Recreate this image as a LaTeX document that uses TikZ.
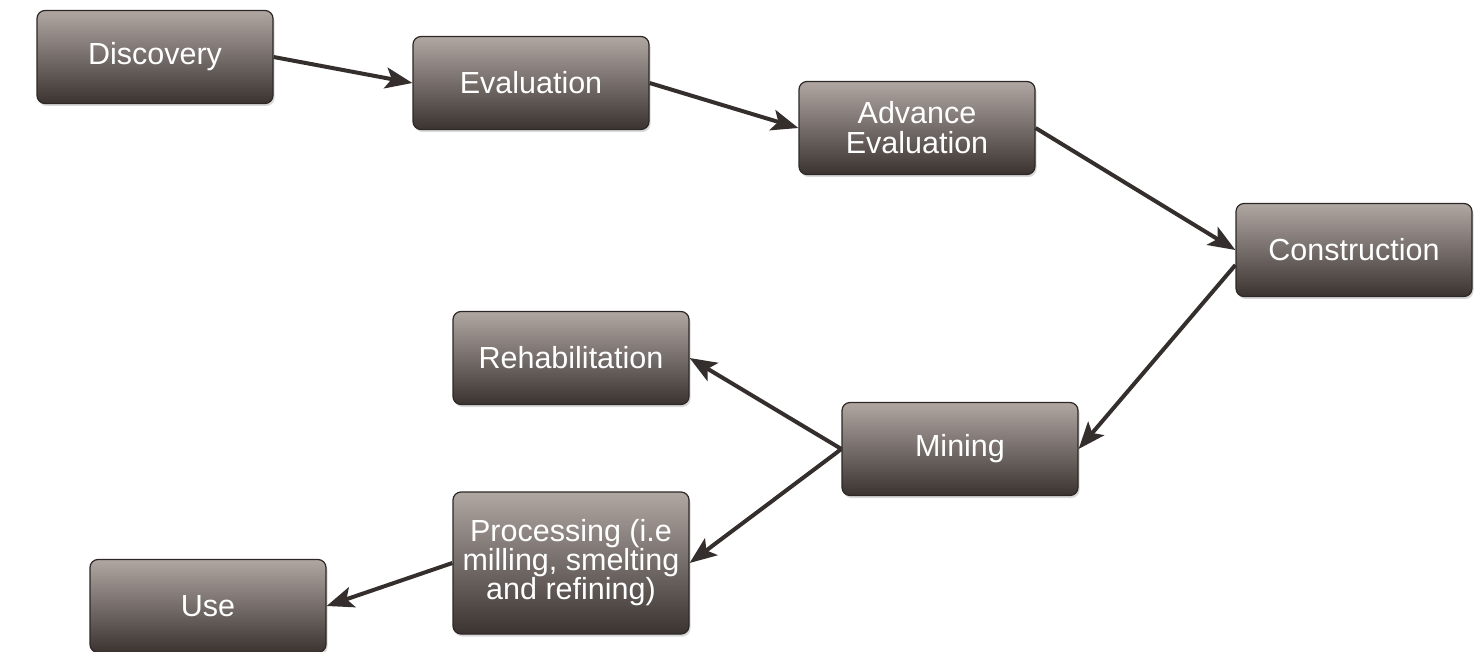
\documentclass[tikz,border=0pt]{standalone}
\usepackage{fontspec}
\setmainfont{Liberation Sans}
\usetikzlibrary{arrows.meta,shadows}
\definecolor{boxtop}{RGB}{176,167,163}
\definecolor{boxbot}{RGB}{58,51,48}
\definecolor{boxline}{RGB}{45,40,38}
\definecolor{arrowc}{RGB}{52,47,45}
\tikzset{
  stage/.style={rectangle, rounded corners=8pt, draw=boxline, line width=1.2pt,
    top color=boxtop, bottom color=boxbot, text=white,
    minimum width=236pt, minimum height=93pt, align=center,
    font=\fontsize{30.5}{29}\selectfont, inner sep=2pt,
    drop shadow={shadow xshift=1.5pt, shadow yshift=-2.5pt, opacity=0.3}},
  link/.style={draw=arrowc, line width=4pt,
    -{Stealth[length=27pt,width=21pt,inset=6pt]}}
}
\begin{document}
\begin{tikzpicture}[x=1pt,y=-1pt]
\useasboundingbox (0,0) rectangle (1478,652);
\node[stage] (disc) at (155,57) {Discovery};
\node[stage] (eval) at (531,83) {Evaluation};
\node[stage] (adv) at (917,128) {Advance\\[1pt]Evaluation};
\node[stage] (cons) at (1354,250) {Construction};
\node[stage] (mine) at (960,449) {Mining};
\node[stage] (rehab) at (571,358) {Rehabilitation};
\node[stage, minimum height=142pt] (proc) at (571,563) {Processing (i.e\\milling, smelting\\and refining)};
\node[stage] (use) at (208,606) {Use};
\draw[link] (disc.east) -- (eval.west);
\draw[link] (eval.east) -- (adv.west);
\draw[link] (adv.east) -- (cons.west);
\draw[link] ([yshift=-15pt]cons.west) -- (mine.east);
\draw[link] (mine.west) -- (rehab.east);
\draw[link] (mine.west) -- (proc.east);
\draw[link] (proc.west) -- (use.east);
\end{tikzpicture}
\end{document}
